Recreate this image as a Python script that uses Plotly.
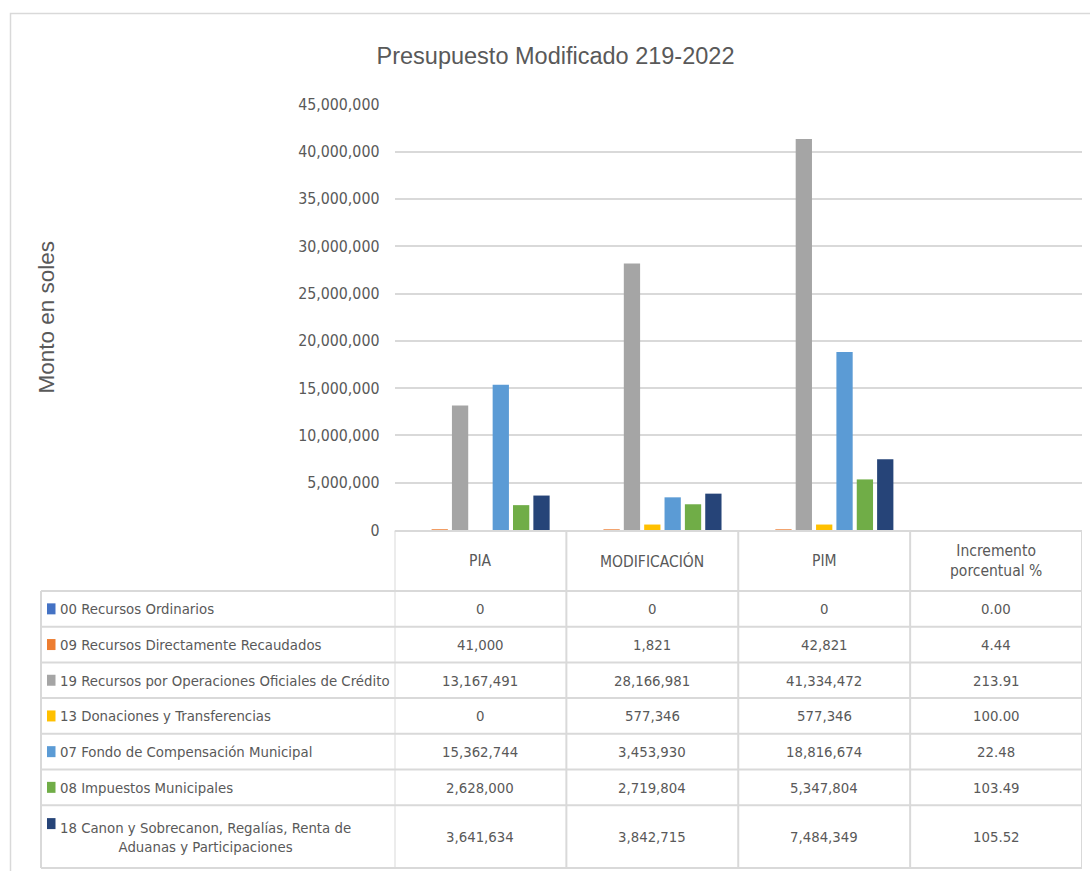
import plotly.graph_objects as go

# ---------------- data ----------------
categories = ["PIA", "MODIFICACIÓN", "PIM", "Incremento porcentual %"]
header_labels = ["PIA", "MODIFICACIÓN", "PIM", "Incremento<br>porcentual %"]

series_names = [
    "00 Recursos Ordinarios",
    "09 Recursos Directamente Recaudados",
    "19 Recursos por Operaciones Oficiales de Crédito",
    "13 Donaciones y Transferencias",
    "07 Fondo de Compensación Municipal",
    "08 Impuestos Municipales",
    "18 Canon y Sobrecanon, Regalías, Renta de Aduanas y Participaciones",
]
series_table_labels = [
    "00 Recursos Ordinarios",
    "09 Recursos Directamente Recaudados",
    "19 Recursos por Operaciones Oficiales de Crédito",
    "13 Donaciones y Transferencias",
    "07 Fondo de Compensación Municipal",
    "08 Impuestos Municipales",
    "18 Canon y Sobrecanon, Regalías, Renta de<br>Aduanas y Participaciones",
]

rec_ordinarios = [0, 0, 0, 0.00]
rec_directamente = [41000, 1821, 42821, 4.44]
rec_credito = [13167491, 28166981, 41334472, 213.91]
donaciones = [0, 577346, 577346, 100.00]
foncomun = [15362744, 3453930, 18816674, 22.48]
impuestos = [2628000, 2719804, 5347804, 103.49]
canon = [3641634, 3842715, 7484349, 105.52]

series_values = [rec_ordinarios, rec_directamente, rec_credito, donaciones,
                 foncomun, impuestos, canon]
colors = ["#4472C4", "#ED7D31", "#A5A5A5", "#FFC000", "#5B9BD5", "#70AD47", "#264478"]

y_tick_max = 45000000
y_tick_step = 5000000

# ---------------- layout helpers ----------------
W, H = 1090, 871


def px(x):
    return x / W


def py(y):
    return 1 - y / H


NARROW = "DejaVu Sans Condensed, Liberation Sans, Arial, sans-serif"
TXT = "#595959"
LINE = "#d9d9d9"

plot_left, plot_right = 394.5, 1082
plot_top, plot_bottom = 104.3, 530

fig = go.Figure()
for name, vals, col in zip(series_names, series_values, colors):
    fig.add_trace(go.Bar(
        x=categories, y=vals, name=name, marker=dict(color=col, line=dict(width=0)),
        showlegend=False, hoverinfo="x+y+name",
    ))

shapes = []
annotations = []

# outer chart border
shapes.append(dict(type="rect", xref="paper", yref="paper",
                   x0=px(10.5), x1=px(1100), y0=py(890), y1=py(13.5),
                   line=dict(color=LINE, width=1.5), layer="below"))

# table geometry
header_top = 531
row_edges = [591, 626.7, 662.4, 698.1, 733.8, 769.5, 805.2, 868]
table_left = 41
lw = 2

shapes.append(dict(type="line", xref="x", yref="paper", x0=-0.5, x1=len(categories) - 0.5,
                   y0=py(header_top), y1=py(header_top), line=dict(color=LINE, width=lw)))
for ye in row_edges:
    shapes.append(dict(type="line", xref="paper", yref="paper", x0=px(table_left), x1=px(plot_right),
                       y0=py(ye), y1=py(ye), line=dict(color=LINE, width=lw)))
for k in range(len(categories) + 1):
    shapes.append(dict(type="line", xref="x", yref="paper", x0=k - 0.5, x1=k - 0.5,
                       y0=py(header_top), y1=py(row_edges[-1]), line=dict(color=LINE, width=lw)))
shapes.append(dict(type="line", xref="paper", yref="paper", x0=px(table_left), x1=px(table_left),
                   y0=py(row_edges[0]), y1=py(row_edges[-1]), line=dict(color=LINE, width=lw)))

for cat, lab in zip(categories, header_labels):
    annotations.append(dict(xref="x", yref="paper", x=cat, y=py((header_top + row_edges[0]) / 2),
                            text=lab, showarrow=False, xanchor="center", yanchor="middle",
                            font=dict(family=NARROW, size=15.5, color=TXT)))

for i, (lab, vals, col) in enumerate(zip(series_table_labels, series_values, colors)):
    top, bot = row_edges[i], row_edges[i + 1]
    yc = (top + bot) / 2
    nlines = lab.count("<br>") + 1
    key_y = yc if nlines == 1 else yc - 13
    shapes.append(dict(type="rect", xref="paper", yref="paper", x0=px(47), x1=px(55.5),
                       y0=py(key_y + 5.5), y1=py(key_y - 5.5), fillcolor=col, line=dict(width=0)))
    annotations.append(dict(xref="paper", yref="paper", x=px(58), y=py(yc), text=lab,
                            showarrow=False, xanchor="left", yanchor="middle", align="center",
                            font=dict(family=NARROW, size=14.8, color=TXT)))
    for j, (cat, v) in enumerate(zip(categories, vals)):
        txt = f"{v:,.0f}" if j < 3 else f"{v:.2f}"
        annotations.append(dict(xref="x", yref="paper", x=cat, y=py(yc), text=txt,
                                showarrow=False, xanchor="center", yanchor="middle",
                                font=dict(family=NARROW, size=14.8, color=TXT)))

annotations.append(dict(xref="paper", yref="paper", x=px(46.5), y=py(317), text="Monto en soles",
                        textangle=-90, showarrow=False, xanchor="center", yanchor="middle",
                        font=dict(family="Liberation Sans, Arial, sans-serif", size=22.5, color=TXT)))

fig.update_layout(
    width=W, height=H, autosize=False,
    margin=dict(l=0, r=0, t=0, b=0, autoexpand=False),
    paper_bgcolor="white", plot_bgcolor="white",
    title=dict(text="Presupuesto Modificado 219-2022", x=px(555.5), xanchor="center",
               y=py(56), yanchor="middle", xref="paper", yref="paper", automargin=False,
               font=dict(family="Liberation Sans, Arial, sans-serif", size=23.5, color=TXT)),
    barmode="group", bargap=0.171, bargroupgap=0.2,
    xaxis=dict(domain=[px(plot_left), px(plot_right)], type="category", range=[-0.5, 3.5],
               automargin=False,
               showticklabels=False, showgrid=False, zeroline=False, showline=False, ticks=""),
    yaxis=dict(domain=[py(plot_bottom), py(plot_top)], range=[0, y_tick_max], dtick=y_tick_step,
               automargin=False,
               tick0=0, tickformat=",", showgrid=True, gridcolor=LINE, gridwidth=1.5,
               zeroline=False, showline=False, ticks="", ticklabelstandoff=14,
               tickfont=dict(family=NARROW, size=15.8, color=TXT)),
    shapes=shapes, annotations=annotations,
)

fig.write_html("out.html", config={"displayModeBar": False},
               post_script="document.body.style.margin='0';")
